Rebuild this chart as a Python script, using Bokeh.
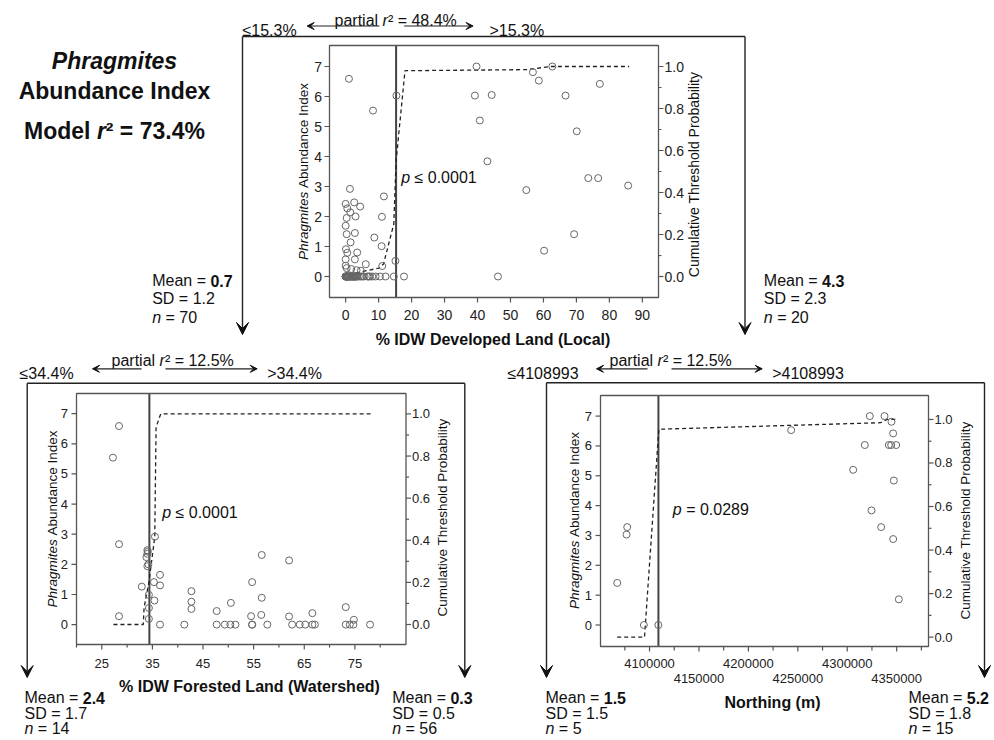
import math
from bokeh.plotting import figure
from bokeh.models import Range1d, Label, Arrow, VeeHead
from bokeh.core.properties import value
from bokeh.embed import file_html
from bokeh.resources import INLINE

# ---------------- data ----------------
# Top panel: % IDW developed land (local) vs Phragmites abundance index
dev_x = [1.0, 8.3, 1.3, 11.6, 0.0, 2.6, 4.4, 0.5, 1.4, 11.0, 3.0, 0.3, 0.0, 2.8, 0.3, 8.7,
         1.5, 10.9, 0.1, 0.5, 3.5, 0.0, 2.8, 6.1, 15.1, 11.1, 0.0, 0.3, 1.7, 3.3, 4.6,
         0.0, 0.0, 0.0, 0.0, 0.2, 0.2, 0.4, 0.5, 0.5, 0.7, 0.8, 1.0, 1.0, 1.2, 1.5, 1.5,
         1.8, 2.0, 2.0, 2.3, 2.5, 2.5, 2.8, 3.0, 3.0, 3.3, 3.5, 4.0, 4.5, 5.0, 5.5, 6.6,
         7.0, 7.4, 8.1, 9.1, 10.4, 12.1, 14.6,
         39.7, 62.7, 56.8, 58.6, 77.1, 39.2, 44.3, 66.7, 15.4, 40.7, 70.1, 43.0, 73.6,
         76.6, 85.7, 54.8, 69.3, 60.2, 46.2, 17.7]
dev_y = [6.59, 5.53, 2.92, 2.67, 2.42, 2.47, 2.33, 2.27, 2.14, 1.99, 2.00, 1.95, 1.69, 1.45,
         1.41, 1.30, 1.14, 1.01, 0.91, 0.79, 0.80, 0.57, 0.57, 0.41, 0.52, 0.35, 0.36, 0.28,
         0.25, 0.21, 0.19,
         0.00, 0.00, 0.00, 0.00, 0.00, 0.00, 0.00, 0.00, 0.00, 0.00, 0.00, 0.00, 0.00, 0.00,
         0.00, 0.00, 0.00, 0.00, 0.00, 0.00, 0.00, 0.00, 0.00, 0.00, 0.00, 0.00, 0.00, 0.00,
         0.00, 0.00, 0.00, 0.00, 0.00, 0.00, 0.00, 0.00, 0.00, 0.00, 0.00,
         7.00, 7.00, 6.81, 6.53, 6.42, 6.03, 6.05, 6.03, 6.03, 5.20, 4.84, 3.84, 3.28,
         3.28, 3.03, 2.88, 1.41, 0.86, 0.00, 0.00]
dev_threshold = 15.3
dev_cum_x = [1.0, 4.0, 10.1, 11.5, 14.6, 15.3, 18.0, 55.0, 62.0, 86.0]
dev_cum_p = [0.01, 0.02, 0.04, 0.06, 0.25, 0.55, 0.98, 0.985, 1.0, 1.0]

# Bottom-left panel: % IDW forested land (watershed), sites with developed land <= 15.3 %
for_x = [27.2, 28.4, 28.4, 28.4, 32.9, 34.0, 34.0, 33.8, 34.0, 34.2, 34.1, 34.3, 34.3, 34.3,
         35.5, 35.3, 35.4, 36.5, 36.5, 36.5, 41.3, 42.7, 42.7, 42.7, 47.7, 47.7, 49.3, 50.4,
         51.4, 50.5, 54.7, 54.5, 54.7, 54.7, 56.6, 56.6, 56.5, 57.7, 62.0, 62.0, 62.6, 64.1,
         65.2, 66.6, 67.1, 66.6, 73.2, 73.2, 74.0, 74.7, 74.8, 78.0]
for_y = [5.54, 6.59, 2.67, 0.28, 1.26, 2.47, 2.35, 2.24, 1.94, 2.00, 2.42, 0.99, 0.55, 0.19,
         2.92, 1.41, 0.80, 1.65, 1.30, 0.00, 0.00, 1.11, 0.76, 0.52, 0.45, 0.00, 0.00, 0.00,
         0.00, 0.72, 1.41, 0.28, 0.00, 0.00, 2.31, 0.89, 0.32, 0.00, 2.13, 0.27, 0.00, 0.00,
         0.00, 0.00, 0.00, 0.38, 0.58, 0.00, 0.00, 0.00, 0.16, 0.00]
for_threshold = 34.4
for_cum_x = [27.3, 33.2, 33.35, 34.3, 35.46, 35.72, 36.64, 78.1]
for_cum_p = [0.0, 0.0, 0.08, 0.2, 0.415, 0.937, 1.0, 1.0]

# Bottom-right panel: Northing (m), sites with developed land > 15.3 %
north_x = [4067300, 4077410, 4076740, 4094270, 4108900, 4243290, 4306000, 4317800, 4322860,
           4324550, 4334320, 4337700, 4344770, 4346460, 4342080, 4344440, 4349500, 4347130,
           4346460, 4352190]
north_y = [1.41, 3.28, 3.03, 0.00, 0.00, 6.53, 5.20, 6.03, 7.00, 3.84, 3.28, 7.00, 6.81, 6.42,
           6.03, 6.03, 6.03, 4.84, 2.88, 0.86]
north_threshold = 4108993
north_cum_x = [4067300, 4094900, 4109400, 4333600, 4340400, 4348800]
north_cum_p = [0.0, 0.0, 0.955, 0.985, 1.0, 1.0]

# ticks
abund_ticks = [0, 1, 2, 3, 4, 5, 6, 7]
prob_ticks = [0.0, 0.2, 0.4, 0.6, 0.8, 1.0]
prob_minor = [0.1, 0.3, 0.5, 0.7, 0.9]
dev_ticks = [0, 10, 20, 30, 40, 50, 60, 70, 80, 90]
for_ticks = [25, 35, 45, 55, 65, 75]
for_minor = [20, 30, 40, 50, 60, 70, 80]
north_ticks_a = [4100000, 4200000, 4300000]
north_ticks_b = [4150000, 4250000, 4350000]
north_minor = [4075000, 4125000, 4175000, 4225000, 4275000, 4325000, 4375000]

# node statistics (mean, sd, n)
stats_top_low = ["0.7", "1.2", "70"]
stats_top_high = ["4.3", "2.3", "20"]
stats_for_low = ["2.4", "1.7", "14"]
stats_for_high = ["0.3", "0.5", "56"]
stats_nor_low = ["1.5", "1.5", "5"]
stats_nor_high = ["5.2", "1.8", "15"]

# ---------------- canvas (page pixels == canvas pixels) ----------------
FONT = "Liberation Sans"
W, H = 992, 738
YB = H            # page y -> canvas data y
AX = "#555555"
INK = "#111111"

p = figure(width=W, height=H, title=None, x_range=Range1d(0, W), y_range=Range1d(0, H),
           output_backend="svg", toolbar_location=None, min_border=0,
           x_axis_location=None, y_axis_location=None, outline_line_color=None,
           background_fill_color="white", border_fill_color="white")
p.xgrid.visible = False
p.ygrid.visible = False

# panel frames in page pixels (left, top, right, bottom) and their data extents
FR = {"A": (329, 45, 658, 297), "B": (76, 393, 405.5, 644), "C": (600, 395, 928, 646)}
XR = {"A": (-4.9, 94.9), "B": (20.0, 85.1), "C": (4050400, 4382200)}
YR = {"A": (-0.7, 7.7), "B": (-0.66, 7.67), "C": (-0.72, 7.69)}
PR = {"A": (-0.1, 1.1), "B": (-0.095, 1.097), "C": (-0.043, 1.11)}


def full_x(l, r, x0, x1):
    s = (x1 - x0) / (r - l)
    return Range1d(x0 - l * s, x1 + (W - r) * s)


def full_y(t, b, y0, y1):
    s = (y1 - y0) / (b - t)
    return Range1d(y0 - (H - b) * s, y1 + t * s)


xranges, yranges = {}, {}
for k in "ABC":
    l, t, r, b = FR[k]
    xranges["x" + k] = full_x(l, r, *XR[k])
    yranges["y" + k] = full_y(t, b, *YR[k])
    yranges["p" + k] = full_y(t, b, *PR[k])
p.extra_x_ranges = xranges
p.extra_y_ranges = yranges


def T(x, y, s, size, style="normal", align="left", baseline="alphabetic", angle=0.0):
    p.add_layout(Label(x=x, y=YB - y, text=s, text_font=FONT, text_font_size=f"{size}px",
                       text_font_style=style, text_align=align, text_baseline=baseline,
                       angle=angle, text_color=INK))


def arrow(x0, y0, x1, y1, size, lw=1.3):
    p.add_layout(Arrow(end=VeeHead(size=size, fill_color=INK, line_color=INK, line_width=1),
                       x_start=x0, y_start=YB - y0, x_end=x1, y_end=YB - y1,
                       line_color="#222222", line_width=lw))


def tree(xl, xr, ytop, ytip):
    p.line([xl, xr], [YB - ytop, YB - ytop], line_color="#222222", line_width=1.4)
    arrow(xl, ytop, xl, ytip, 12, 1.4)
    arrow(xr, ytop, xr, ytip, 12, 1.4)


def header(xb, ybase, r2, low, lowx, high, highx, ybase2, ya, la, ra):
    fs = 16
    T(xb, ybase, "partial", fs, align="right")
    T(xb + 0.278 * fs, ybase, "r", fs, "italic")
    T(xb + 0.611 * fs, ybase, "\u00b2 = " + r2, fs)
    T(lowx, ybase2, low, fs)
    T(highx, ybase2, high, fs)
    arrow(la[0], ya, la[1], ya, 7, 1.2)
    arrow(ra[0], ya, ra[1], ya, 7, 1.2)


def stats(x0, y0, st, dy):
    fs = 16
    T(x0, y0, "Mean =", fs)
    T(x0 + 3.641 * fs, y0, st[0], fs, "bold")
    T(x0, y0 + dy, "SD = " + st[1], fs)
    T(x0, y0 + 2 * dy, "n", fs, "italic")
    T(x0 + 0.834 * fs, y0 + 2 * dy, "= " + st[2], fs)


def ptext(x0, y0, s):
    T(x0, y0, "p", 16, "italic")
    T(x0 + 0.834 * 16, y0, s, 16)


def ytitle(xc, yc, fs):
    total = 13.118 * fs
    start = yc + total / 2
    T(xc, start, "Phragmites", fs, "italic", "left", "middle", math.pi / 2)
    T(xc, start - 5.335 * fs, "Abundance Index", fs, "normal", "left", "middle", math.pi / 2)


def rtitle(xc, yc, fs):
    T(xc, yc, "Cumulative Threshold Probability", fs, "normal", "center", "middle", math.pi / 2)


def ticktext(xs, ys, labels, fs, align, baseline, xname="default", yname="default"):
    p.text(x=xs, y=ys, text=labels, x_range_name=xname, y_range_name=yname,
           text_font=value(FONT), text_font_size=value(fs), text_color="#222222",
           text_align=align, text_baseline=baseline)


def xticks(k, ticks, length):
    l, t, r, b = FR[k]
    n = len(ticks)
    p.segment(x0=ticks, x1=ticks, y0=[YB - b] * n, y1=[YB - b - length] * n,
              x_range_name="x" + k, line_color=AX, line_width=1.2)


def yticks(k, rng, ticks, length, side):
    l, t, r, b = FR[k]
    n = len(ticks)
    x0 = l if side == "left" else r
    x1 = x0 - length if side == "left" else x0 + length
    p.segment(x0=[x0] * n, x1=[x1] * n, y0=ticks, y1=ticks,
              y_range_name=rng + k, line_color=AX, line_width=1.2)


def panel_body(k, xs, ys, thr, cx, cp):
    x0, x1 = XR[k]
    y0, y1 = YR[k]
    p.segment(x0=[thr], x1=[thr], y0=[y0], y1=[y1], x_range_name="x" + k,
              y_range_name="y" + k, line_color="#444444", line_width=2)
    p.line(cx, cp, x_range_name="x" + k, y_range_name="p" + k, line_dash="4 3",
           line_color="#222222", line_width=1.3)
    p.scatter(xs, ys, x_range_name="x" + k, y_range_name="y" + k, marker="circle", size=7,
              fill_color=None, line_color="#666666", line_width=1)
    p.quad(left=[x0], right=[x1], bottom=[y0], top=[y1], x_range_name="x" + k,
           y_range_name="y" + k, fill_color=None, line_color=AX, line_width=1.3)


def prob_labels(vals):
    return [f"{v:.1f}" for v in vals]


# ---- top panel ----
panel_body("A", dev_x, dev_y, dev_threshold, dev_cum_x, dev_cum_p)
xticks("A", dev_ticks, 5)
ticktext(dev_ticks, [YB - 314] * len(dev_ticks), [str(v) for v in dev_ticks], "14px",
         "center", "middle", xname="xA")
yticks("A", "y", abund_ticks, 5, "left")
ticktext([321.5] * len(abund_ticks), abund_ticks, [str(v) for v in abund_ticks], "14px",
         "right", "middle", yname="yA")
yticks("A", "p", prob_ticks, 5, "right")
yticks("A", "p", prob_minor, 3, "right")
ticktext([664] * len(prob_ticks), prob_ticks, prob_labels(prob_ticks), "14px",
         "left", "middle", yname="pA")

# ---- bottom-left panel ----
panel_body("B", for_x, for_y, for_threshold, for_cum_x, for_cum_p)
xticks("B", for_ticks, 5)
xticks("B", for_minor, 3)
ticktext(for_ticks, [YB - 662.5] * len(for_ticks), [str(v) for v in for_ticks], "13px",
         "center", "middle", xname="xB")
yticks("B", "y", abund_ticks, 5, "left")
ticktext([67.5] * len(abund_ticks), abund_ticks, [str(v) for v in abund_ticks], "13px",
         "right", "middle", yname="yB")
yticks("B", "p", prob_ticks, 5, "right")
yticks("B", "p", prob_minor, 3, "right")
ticktext([411.5] * len(prob_ticks), prob_ticks, prob_labels(prob_ticks), "13px",
         "left", "middle", yname="pB")

# ---- bottom-right panel ----
panel_body("C", north_x, north_y, north_threshold, north_cum_x, north_cum_p)
xticks("C", north_ticks_a + north_ticks_b, 5)
xticks("C", north_minor, 4)
ticktext(north_ticks_a, [YB - 663] * len(north_ticks_a), [str(v) for v in north_ticks_a],
         "13px", "center", "middle", xname="xC")
ticktext(north_ticks_b, [YB - 677.5] * len(north_ticks_b), [str(v) for v in north_ticks_b],
         "13px", "center", "middle", xname="xC")
yticks("C", "y", abund_ticks, 5, "left")
ticktext([591.5] * len(abund_ticks), abund_ticks, [str(v) for v in abund_ticks], "13px",
         "right", "middle", yname="yC")
yticks("C", "p", prob_ticks, 5, "right")
yticks("C", "p", prob_minor, 3, "right")
ticktext([934] * len(prob_ticks), prob_ticks, prob_labels(prob_ticks), "13px",
         "left", "middle", yname="pC")

# ---- title block ----
T(114, 60, "Phragmites", 23, "bold italic", "center")
T(114, 90, "Abundance Index", 23, "bold", "center")
T(90, 130, "Model", 23, "bold", "right")
T(96.4, 130, "r", 23, "bold italic")
T(105.3, 130, "\u00b2 = 73.4%", 23, "bold")

# ---- regression tree ----
tree(242, 744.5, 36, 334)
tree(26.7, 464.3, 382.7, 677)
tree(546, 984, 382.3, 677)

header(377.6, 19.5, "48.4%", "\u226415.3%", 242, ">15.3%", 489, 30, 25.5,
       (379, 306.6), (403.7, 472.6))
header(154.6, 360, "12.5%", "\u226434.4%", 19, ">34.4%", 266.7, 373, 368.3,
       (141, 92), (165, 256.7))
header(652.6, 360, "12.5%", "\u22644108993", 507, ">4108993", 771.7, 373, 368.3,
       (647, 596), (671, 761.7))

stats(151.7, 280, stats_top_low, 18.4)
stats(763.3, 280, stats_top_high, 18.4)
stats(24, 697, stats_for_low, 15.5)
stats(391.7, 697, stats_for_high, 15.5)
stats(545, 697, stats_nor_low, 15.5)
stats(908, 697, stats_nor_high, 15.5)

ptext(400.7, 176.7, "\u2264 0.0001")
ptext(161.7, 511.7, "\u2264 0.0001")
ptext(672.3, 509.3, "= 0.0289")

T(492.5, 339, "% IDW Developed Land (Local)", 16, "bold", "center")
T(249, 686, "% IDW Forested Land (Watershed)", 16, "bold", "center")
T(772, 702, "Northing (m)", 16, "bold", "center")

ytitle(303.3, 171, 13.5)
rtitle(693, 174, 14)
ytitle(51.7, 518.5, 13.5)
rtitle(441.7, 517, 13.5)
ytitle(574, 520, 13.5)
rtitle(965, 520, 13.5)

open("out.html", "w").write(file_html(p, INLINE))
